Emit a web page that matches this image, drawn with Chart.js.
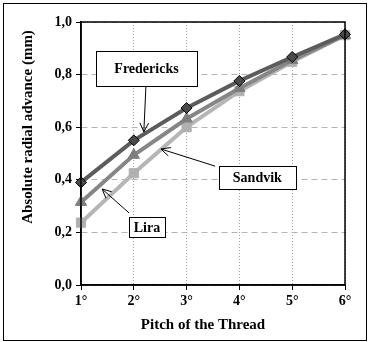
<!DOCTYPE html>
<html><head><meta charset="utf-8">
<script src="https://cdn.jsdelivr.net/npm/chart.js@4/dist/chart.umd.min.js"></script>
<style>html,body{margin:0;padding:0;background:#fff}#wrap{width:370px;height:342px;position:relative}</style>
</head><body><div id="wrap"><canvas id="c" width="370" height="342"></canvas></div>
<script>
const categories = ['1°','2°','3°','4°','5°','6°'];
const fredericks = [0.39, 0.55, 0.673, 0.776, 0.867, 0.953];
const sandvik    = [0.315, 0.494, 0.632, 0.748, 0.855, 0.95];
const lira       = [0.237, 0.425, 0.60, 0.737, 0.849, 0.95];
const yTicks = [0, 0.2, 0.4, 0.6, 0.8, 1.0];
const xTitle = 'Pitch of the Thread';
const yTitle = 'Absolute radial advance (mm)';
// annotations: label, box centre (category index, value), arrow from/to (index, value)
const notes = [
  {text:'Fredericks', cx:1.24, cy:0.823, w:101, h:35, ax:1.23, ay:0.757, bx:1.19, by:0.582},
  {text:'Sandvik',    cx:3.34, cy:0.409, w:77,  h:23, ax:2.54, ay:0.452, bx:1.515, by:0.517},
  {text:'Lira',       cx:1.25, cy:0.22,  w:36,  h:20, ax:0.91, ay:0.274, bx:0.40, by:0.365}
];
const FONT = '"Liberation Serif", "Times New Roman", serif';

const framePlugin = {
  id:'frame',
  beforeDraw(chart){
    const c = chart.ctx;
    c.save(); c.fillStyle='#fff'; c.fillRect(0,0,chart.width,chart.height);
    c.strokeStyle='#000'; c.lineWidth=1; c.strokeRect(3.5,3.5,chart.width-7,chart.height-5);
    c.restore();
  },
  afterDraw(chart){
    const c = chart.ctx;
    c.save();
    c.fillStyle='#000'; c.font='bold 15px '+FONT; c.textAlign='center'; c.textBaseline='middle';
    c.fillText(xTitle, 203, 325);
    c.translate(28, 127); c.rotate(-Math.PI/2);
    c.fillText(yTitle, 0, 0);
    c.restore();
  },
  afterDatasetsDraw(chart){
    const c = chart.ctx, a = chart.chartArea;
    c.save(); c.strokeStyle='#000'; c.lineWidth=1.5;
    c.strokeRect(a.left, a.top, a.right-a.left, a.bottom-a.top);
    const xs = chart.scales.x, ys = chart.scales.y;
    notes.forEach(n=>{
      const x0 = xs.getPixelForValue(n.ax), y0 = ys.getPixelForValue(n.ay);
      const x1 = xs.getPixelForValue(n.bx), y1 = ys.getPixelForValue(n.by);
      c.strokeStyle='#000'; c.lineWidth=1;
      c.beginPath(); c.moveTo(x0,y0); c.lineTo(x1,y1); c.stroke();
      const ang = Math.atan2(y1-y0, x1-x0), L=10, s=0.45;
      c.beginPath();
      c.moveTo(x1 - L*Math.cos(ang-s), y1 - L*Math.sin(ang-s));
      c.lineTo(x1,y1);
      c.lineTo(x1 - L*Math.cos(ang+s), y1 - L*Math.sin(ang+s));
      c.stroke();
      const cx = xs.getPixelForValue(n.cx), cy = ys.getPixelForValue(n.cy);
      const bx = Math.round(cx - n.w/2)+0.5, by = Math.round(cy - n.h/2)+0.5;
      c.fillStyle='#fff'; c.fillRect(bx,by,n.w,n.h);
      c.strokeRect(bx,by,n.w,n.h);
      c.fillStyle='#000'; c.font='bold 14px '+FONT; c.textAlign='center'; c.textBaseline='middle';
      c.fillText(n.text, cx, cy+1);
    });
    c.restore();
  }
};

new Chart(document.getElementById('c'), {
  type:'line',
  data:{
    labels: categories,
    datasets:[
      {label:'Fredericks', data:fredericks, borderColor:'#5c5c5c', borderWidth:4, pointStyle:'rectRot', pointRadius:5.5, pointBackgroundColor:'#4a4a4a', pointBorderColor:'#000', pointBorderWidth:1, tension:0},
      {label:'Sandvik', data:sandvik, borderColor:'#868686', borderWidth:4, pointStyle:'triangle', pointRadius:6.5, pointBackgroundColor:'#7e7e7e', pointBorderColor:'#7e7e7e', pointBorderWidth:1, tension:0},
      {label:'Lira', data:lira, borderColor:'#b6b6b6', borderWidth:4, pointStyle:'rect', pointRadius:6.5, pointBackgroundColor:'#b0b0b0', pointBorderColor:'#b0b0b0', pointBorderWidth:1, tension:0}
    ]
  },
  options:{
    responsive:false, animation:false, devicePixelRatio:1,
    layout:{padding:{left:0,right:25,top:22,bottom:0}},
    plugins:{legend:{display:false}, tooltip:{enabled:false}},
    scales:{
      x:{
        offset:false,
        grid:{color:'#a0a0a0', tickColor:'#000', tickLength:5, drawOnChartArea:true},
        border:{color:'#000', width:1.5, dash:[1,2]},
        ticks:{color:'#000', font:{family:FONT, size:14, weight:'bold'}, padding:3, maxRotation:0},
        title:{display:false},
        afterFit(s){ s.height = 57; }
      },
      y:{
        min:0, max:1,
        afterBuildTicks(s){ s.ticks = yTicks.map(v=>({value:v})); },
        grid:{color:'#b4b4b4', tickColor:'#000', tickLength:5},
        border:{color:'#000', width:1.5, dash:[6,4]},
        ticks:{color:'#000', font:{family:FONT, size:14, weight:'bold'}, padding:4, callback:v=>v.toFixed(1).replace('.',',')},
        title:{display:false},
        afterFit(s){ s.width = 81; }
      }
    }
  },
  plugins:[framePlugin]
});
</script></body></html>
